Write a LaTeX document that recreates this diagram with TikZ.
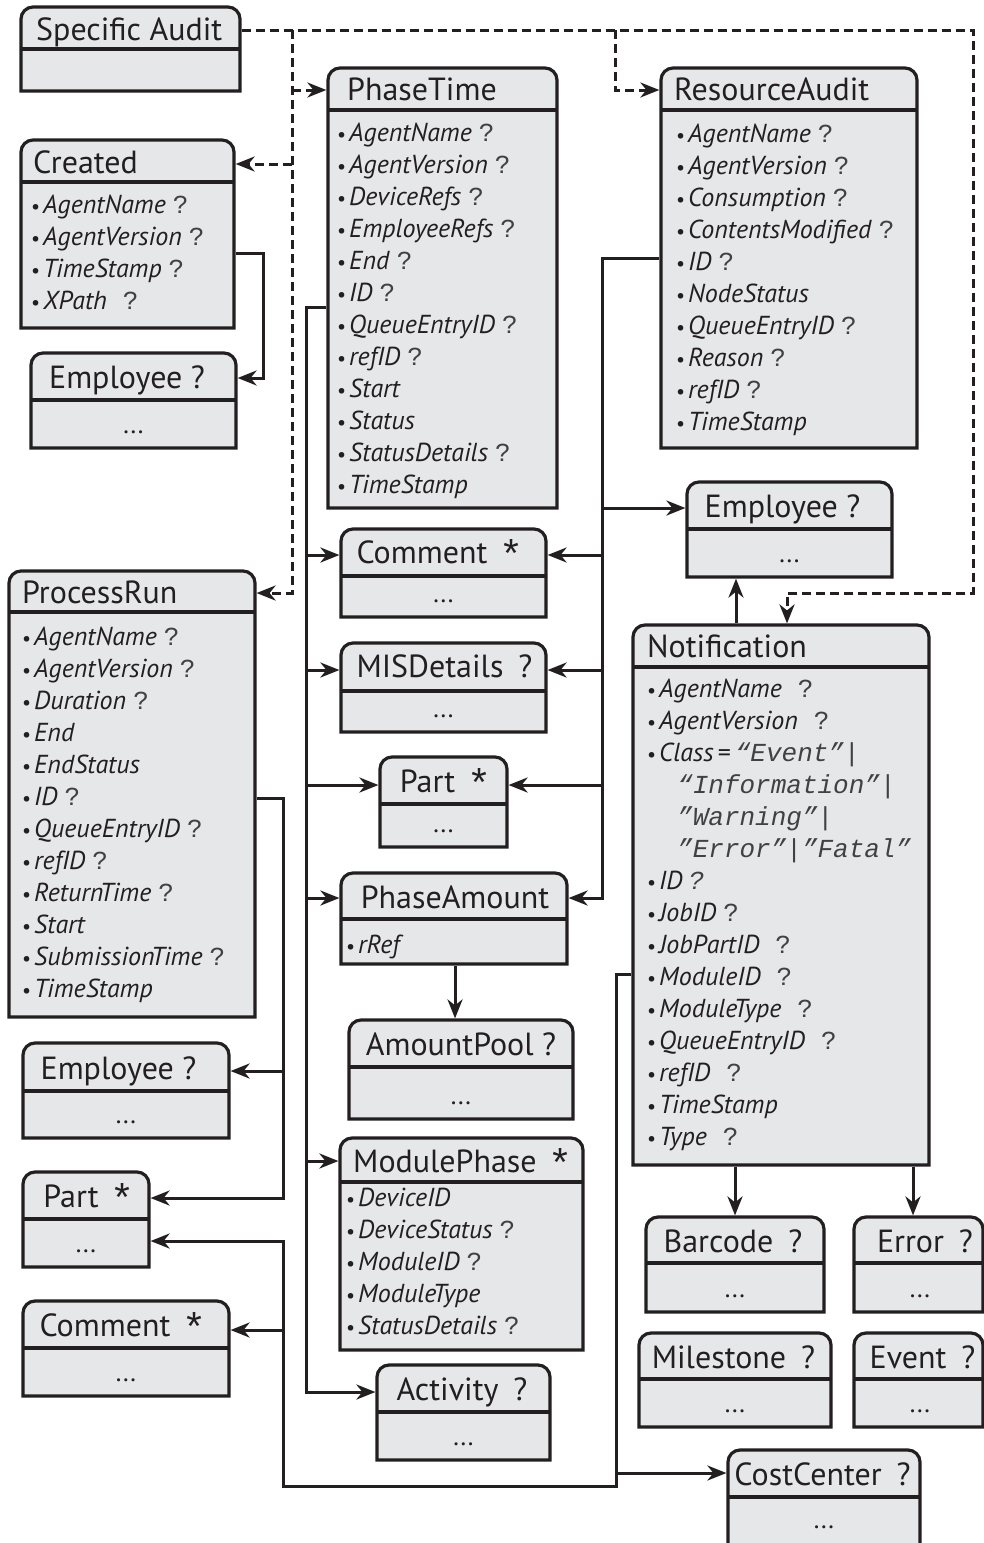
\documentclass[tikz,border=0pt]{standalone}
\usepackage{fontspec}
\setmainfont{PT Sans}
\setmonofont{Liberation Mono}
\usetikzlibrary{arrows.meta,fit}
\definecolor{ink}{HTML}{231F20}
\definecolor{boxfill}{HTML}{E6E7E8}
\definecolor{qgray}{HTML}{414042}
\tikzset{
 boxline/.style={draw=ink, line width=3.2pt, fill=boxfill},
 sepline/.style={draw=ink, line width=3.2pt},
 plainc/.style={draw=ink, line width=3pt},
 conn/.style={plainc, -{Stealth[length=19pt,width=15pt,inset=6pt]}},
 dconn/.style={conn, dash pattern=on 9pt off 5pt},
 ttl/.style={inner sep=0, font=\fontsize{32}{36}\selectfont, text=ink},
 attr/.style={inner sep=0, anchor=base west, font=\fontsize{26}{30}\selectfont, text=ink},
 dots/.style={inner sep=0, anchor=base, font=\fontsize{26}{30}\selectfont, text=ink},
 hit/.style={inner sep=0, outer sep=1.6pt, draw=none, fill=none},
}
\newcommand\uatt[1]{{\fontsize{20}{20}\selectfont\textbullet}\hspace{3pt}\textit{#1}}
\newcommand\uq{\hspace{7pt}{\ttfamily\color{qgray}?}}
\newcommand\uqq{\hspace{16pt}{\ttfamily\color{qgray}?}}
\newcommand\uval[1]{{\ttfamily\itshape\color{qgray}#1}}
\newcommand\ust{\raisebox{-5pt}{\fontsize{40}{40}\selectfont\ttfamily *}}
\newcommand\ubox[6]{%
  \path[boxline] (#2,#5) -- (#2,#3+12) arc[start angle=180,end angle=270,radius=12] -- (#4-12,#3) arc[start angle=270,end angle=360,radius=12] -- (#4,#5) -- cycle;
  \draw[sepline] (#2,#6) -- (#4,#6);
  \coordinate (#1-nw) at (#2,#3);
  \coordinate (#1-se) at (#4,#5);
  \node[hit, fit=(#1-nw)(#1-se)] (#1) {};
}
\newcommand\urows[4]{\foreach \ltext [count=\i from 0] in {#4} {\node[attr] (#1-r\i) at (#2,{#3+32*\i}) {\ltext};}}
\begin{document}
\begin{tikzpicture}[x=1pt,y=-1pt]
\useasboundingbox (0,0) rectangle (984,1543);

% ---- boxes ----
\ubox{SA}{21}{7}{240}{91}{49}
\node[ttl,anchor=base west] (SA-t) at (36,40) {Specific Audit};

\ubox{Cr}{21}{140}{234}{328}{182}
\node[ttl,anchor=base west] (Cr-t) at (33,173) {Created};
\urows{Cr}{31}{213}{\uatt{AgentName}\uq, \uatt{AgentVersion}\uq, \uatt{TimeStamp}\uq, \uatt{XPath}\uqq}

\ubox{EmpA}{31}{353}{236}{448}{400}
\node[ttl,anchor=base] (EmpA-t) at (127,388) {Employee ?};
\node[dots] (EmpA-d) at (133.5,433) {...};

\ubox{PT}{328}{68}{557}{508}{110}
\node[ttl,anchor=base west] (PT-t) at (347,100) {PhaseTime};
\urows{PT}{337}{141}{\uatt{AgentName}\uq, \uatt{AgentVersion}\uq, \uatt{DeviceRefs}\uq, \uatt{EmployeeRefs}\uq, \uatt{End}\uq, \uatt{ID}\uq, \uatt{QueueEntryID}\uq, \uatt{refID}\uq, \uatt{Start}, \uatt{Status}, \uatt{StatusDetails}\uq, \uatt{TimeStamp}}

\ubox{RA}{661}{68}{917}{448}{110}
\node[ttl,anchor=base west] (RA-t) at (674,100) {ResourceAudit};
\urows{RA}{676}{142}{\uatt{AgentName}\uq, \uatt{AgentVersion}\uq, \uatt{Consumption}\uq, \uatt{ContentsModified}\uq, \uatt{ID}\uq, \uatt{NodeStatus}, \uatt{QueueEntryID}\uq, \uatt{Reason}\uq, \uatt{refID}\uq, \uatt{TimeStamp}}

\ubox{EmpB}{687}{482}{892}{577}{529}
\node[ttl,anchor=base] (EmpB-t) at (782.5,517) {Employee ?};
\node[dots] (EmpB-d) at (789.5,562) {...};

\ubox{ComA}{341}{529}{546}{617}{576}
\node[ttl,anchor=base] (ComA-t) at (440,563) {Comment\hspace{12pt}\ust};
\node[dots] (ComA-d) at (443.5,602) {...};

\ubox{MIS}{341}{643}{546}{732}{691}
\node[ttl,anchor=base] (MIS-t) at (444.5,677) {MISDetails\hspace{15pt}?};
\node[dots] (MIS-d) at (443.5,717) {...};

\ubox{PartA}{380}{757}{507}{847}{804}
\node[ttl,anchor=base] (PartA-t) at (445.5,792) {Part\hspace{12pt}\ust};
\node[dots] (PartA-d) at (443.5,832) {...};

\ubox{PA}{341}{873}{567}{964}{919}
\node[ttl,anchor=base] (PA-t) at (455,908) {PhaseAmount};
\urows{PA}{346}{953}{\uatt{rRef}}

\ubox{AP}{349}{1020}{573}{1119}{1067}
\node[ttl,anchor=base] (AP-t) at (461,1055) {AmountPool ?};
\node[dots] (AP-d) at (461,1104) {...};

\ubox{MP}{340}{1138}{583}{1350}{1182}
\node[ttl,anchor=base west] (MP-t) at (353,1172) {ModulePhase\hspace{12pt}\ust};
\urows{MP}{346}{1206}{\uatt{DeviceID}, \uatt{DeviceStatus}\uq, \uatt{ModuleID}\uq, \uatt{ModuleType}, \uatt{StatusDetails}\uq}

\ubox{Act}{377}{1365}{550}{1460}{1412}
\node[ttl,anchor=base] (Act-t) at (462,1400) {Activity\hspace{15pt}?};
\node[dots] (Act-d) at (463.5,1445) {...};

\ubox{PR}{9}{571}{255}{1017}{612}
\node[ttl,anchor=base west] (PR-t) at (22,603) {ProcessRun};
\urows{PR}{22}{645}{\uatt{AgentName}\uq, \uatt{AgentVersion}\uq, \uatt{Duration}\uq, \uatt{End}, \uatt{EndStatus}, \uatt{ID}\uq, \uatt{QueueEntryID}\uq, \uatt{refID}\uq, \uatt{ReturnTime}\uq, \uatt{Start}, \uatt{SubmissionTime}\uq, \uatt{TimeStamp}}

\ubox{EmpC}{23}{1043}{229}{1138}{1091}
\node[ttl,anchor=base] (EmpC-t) at (118.5,1079) {Employee ?};
\node[dots] (EmpC-d) at (126,1123) {...};

\ubox{PartB}{23}{1172}{149}{1267}{1219}
\node[ttl,anchor=base] (PartB-t) at (89,1207) {Part\hspace{12pt}\ust};
\node[dots] (PartB-d) at (86,1252) {...};

\ubox{ComB}{23}{1301}{229}{1396}{1348}
\node[ttl,anchor=base] (ComB-t) at (123,1336) {Comment\hspace{12pt}\ust};
\node[dots] (ComB-d) at (126,1381) {...};

\ubox{Notif}{633}{625}{929}{1165}{667}
\node[ttl,anchor=base west] (Notif-t) at (647,657) {Notification};
\urows{Notif}{647}{697}{\uatt{AgentName}\uqq, \uatt{AgentVersion}\uqq, \uatt{Class}\hspace{4pt}=\hspace{4pt}\uval{“Event”|}, \hspace{30pt}\uval{“Information”|}, \hspace{30pt}\uval{”Warning”|}, \hspace{30pt}\uval{”Error”|”Fatal”}, \uatt{ID}\hspace{6pt}\uval{?}, \uatt{JobID}\uq, \uatt{JobPartID}\uqq, \uatt{ModuleID}\uqq, \uatt{ModuleType}\uqq, \uatt{QueueEntryID}\uqq, \uatt{refID}\uqq, \uatt{TimeStamp}, \uatt{Type}\uqq}

\ubox{Bar}{646}{1217}{824}{1312}{1263}
\node[ttl,anchor=base] (Bar-t) at (733,1252) {Barcode\hspace{15pt}?};
\node[dots] (Bar-d) at (735,1297) {...};

\ubox{Err}{854}{1217}{983}{1312}{1263}
\node[ttl,anchor=base] (Err-t) at (925,1252) {Error\hspace{15pt}?};
\node[dots] (Err-d) at (920,1297) {...};

\ubox{Mil}{639}{1333}{831}{1427}{1379}
\node[ttl,anchor=base] (Mil-t) at (733.5,1368) {Milestone\hspace{15pt}?};
\node[dots] (Mil-d) at (735,1412) {...};

\ubox{Evt}{854}{1333}{983}{1427}{1379}
\node[ttl,anchor=base] (Evt-t) at (922.5,1368) {Event\hspace{15pt}?};
\node[dots] (Evt-d) at (920,1412) {...};

\ubox{CC}{728}{1450}{920}{1548}{1497}
\node[ttl,anchor=base] (CC-t) at (822.5,1485) {CostCenter\hspace{15pt}?};
\node[dots] (CC-d) at (824,1528) {...};

% ---- solid connectors ----
\draw[conn] (Cr.east |- 0,253) -| (263,378) -- (EmpA.east |- 0,378);

\draw[conn] (PT.west |- 0,307) -| (306,1392) -- (Act.west |- 0,1392);
\foreach \n/\y in {ComA/555, MIS/670, PartA/785, PA/898, MP/1161}
  \draw[conn] (306,\y) -- (\n.west |- 0,\y);

\draw[conn] (RA.west |- 0,258) -| (602,898) -- (PA.east |- 0,898);
\draw[conn] (602,508) -- (EmpB.west |- 0,508);
\foreach \n/\y in {ComA/555, MIS/670, PartA/785}
  \draw[conn] (602,\y) -- (\n.east |- 0,\y);

\draw[conn] (PA.south -| 455,0) -- (AP.north -| 455,0);
\draw[conn] (Notif.north -| 736,0) -- (EmpB.south -| 736,0);

\draw[conn] (PR.east |- 0,798) -| (283,1198) -- (PartB.east |- 0,1198);
\draw[conn] (283,1071) -- (EmpC.east |- 0,1071);

\draw[conn] (Notif.west |- 0,974) -| (616,1486) -| (283,1241) -- (PartB.east |- 0,1241);
\draw[conn] (283,1330) -- (ComB.east |- 0,1330);
\draw[conn] (616,1473) -- (CC.west |- 0,1473);

\draw[conn] (Notif.south -| 735,0) -- (Bar.north -| 735,0);
\draw[conn] (Notif.south -| 913,0) -- (Err.north -| 913,0);

% ---- dashed connectors ----
\draw[dconn] (SA.east |- 0,30) -| (973,593) -| (Notif.north -| 787,0);
\draw[dconn] (292,30) -- (292,593) -- (PR.east |- 0,593);
\draw[dconn] (292,90) -- (PT.west |- 0,90);
\draw[dconn] (292,164) -- (Cr.east |- 0,164);
\draw[dconn] (615,30) |- (RA.west |- 0,90);
\end{tikzpicture}
\end{document}
